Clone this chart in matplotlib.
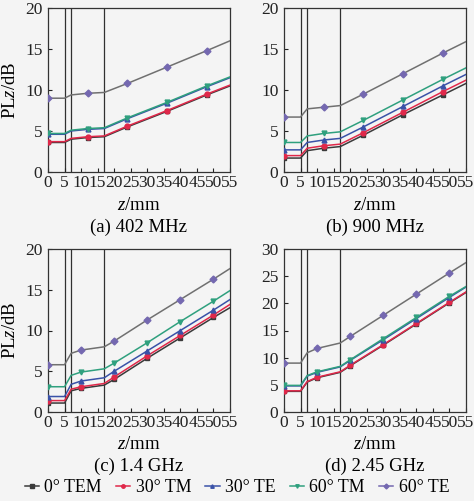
import matplotlib
matplotlib.use("Agg")
import matplotlib.pyplot as plt
from matplotlib.lines import Line2D

plt.rcParams['font.family'] = ['Liberation Serif', 'DejaVu Serif']
plt.rcParams['mathtext.fontset'] = 'custom'
plt.rcParams['mathtext.it'] = 'Liberation Serif:italic'
plt.rcParams['mathtext.rm'] = 'Liberation Serif'

series = ["0° TEM", "30° TM", "30° TE", "60° TM", "60° TE"]
colors = ["#3a3a3a", "#e0284a", "#3a52a8", "#2fa07e", "#7468b0"]
line_colors = ["#3a3a3a", "#e0284a", "#3a52a8", "#2fa07e", "#707070"]
markers = ["s", "o", "^", "v", "D"]

# panel (a) 402 MHz and (b) 900 MHz
z_ab = [0, 5, 7, 12, 17, 24, 36, 48, 55]
mark_ab = [0, 3, 5, 6, 7]
a_vals = [
    [3.6, 3.6, 4.0, 4.2, 4.3, 5.5, 7.4, 9.4, 10.5],
    [3.7, 3.7, 4.1, 4.3, 4.4, 5.6, 7.5, 9.5, 10.6],
    [4.6, 4.6, 5.0, 5.2, 5.3, 6.5, 8.4, 10.4, 11.5],
    [4.7, 4.7, 5.1, 5.3, 5.4, 6.6, 8.5, 10.5, 11.6],
    [9.0, 9.0, 9.4, 9.6, 9.7, 10.8, 12.8, 14.8, 16.0],
]
b_vals = [
    [1.7, 1.7, 2.6, 2.9, 3.1, 4.5, 7.0, 9.4, 10.8],
    [2.0, 2.0, 2.9, 3.2, 3.4, 4.8, 7.3, 9.8, 11.2],
    [2.7, 2.7, 3.6, 3.9, 4.1, 5.5, 8.0, 10.5, 11.9],
    [3.6, 3.6, 4.4, 4.7, 4.9, 6.3, 8.8, 11.3, 12.7],
    [6.7, 6.7, 7.7, 7.9, 8.1, 9.5, 12.0, 14.5, 15.9],
]
# panel (c) 1.4 GHz and (d) 2.45 GHz
z_cd = [0, 5, 7, 10, 17, 20, 30, 40, 50, 55]
mark_cd = [0, 3, 5, 6, 7, 8]
c_vals = [
    [1.1, 1.1, 2.6, 2.9, 3.3, 4.0, 6.6, 9.1, 11.6, 12.8],
    [1.4, 1.4, 2.8, 3.1, 3.5, 4.3, 6.9, 9.4, 11.9, 13.2],
    [1.9, 1.9, 3.4, 3.8, 4.2, 5.0, 7.5, 10.0, 12.5, 13.8],
    [3.1, 3.1, 4.5, 4.9, 5.3, 6.0, 8.5, 11.1, 13.6, 14.9],
    [5.8, 5.8, 7.2, 7.6, 8.0, 8.7, 11.3, 13.8, 16.3, 17.6],
]
d_vals = [
    [3.8, 3.8, 5.5, 6.3, 7.3, 8.5, 12.3, 16.2, 20.1, 22.0],
    [3.9, 3.9, 5.6, 6.4, 7.4, 8.6, 12.4, 16.3, 20.2, 22.1],
    [4.8, 4.8, 6.6, 7.3, 8.3, 9.5, 13.3, 17.2, 21.1, 23.0],
    [4.9, 4.9, 6.7, 7.4, 8.4, 9.6, 13.5, 17.4, 21.3, 23.1],
    [9.0, 9.0, 10.9, 11.7, 12.7, 13.9, 17.8, 21.7, 25.6, 27.5],
]
boundaries = [5, 7, 17]
captions = ["(a) 402 MHz", "(b) 900 MHz", "(c) 1.4 GHz", "(d) 2.45 GHz"]
xticks = list(range(0, 56, 5))

bg = "#f4f4f4"
fig = plt.figure(figsize=(4.74, 5.01), dpi=100, facecolor=bg)

W, H = 474, 501
def rect(l, r, t, b):
    return [l / W, 1 - b / H, (r - l) / W, (b - t) / H]

rects = [rect(48, 230, 8, 172), rect(284, 466, 8, 172),
         rect(48, 230, 249, 412), rect(284, 466, 249, 412)]
panels = [(z_ab, mark_ab, a_vals, 20), (z_ab, mark_ab, b_vals, 20),
          (z_cd, mark_cd, c_vals, 20), (z_cd, mark_cd, d_vals, 30)]

tfs = 12.5
lfs = 13.5
for i, (rc, (z, mk, vals, ymax)) in enumerate(zip(rects, panels)):
    ax = fig.add_axes(rc)
    ax.set_facecolor(bg)
    ax_h = 164.0
    ax_w = 182.0
    for b in boundaries:
        ax.axvline(b, color="#303030", lw=0.9, zorder=1)
    for k in range(len(series)):
        ax.plot(z, vals[k], color=line_colors[k], lw=1.1, marker=markers[k],
                markevery=mk, ms=3.5, mfc=colors[k], mec=colors[k], zorder=3)
    ax.set_xlim(0, 55)
    ax.set_ylim(0, ymax)
    ax.set_xticks(xticks)
    ax.set_yticks(list(range(0, ymax + 1, 5)))
    ax.tick_params(direction="in", length=3, width=0.8, labelsize=tfs,
                   colors="#222222")
    ax.tick_params(axis="x", pad=2)
    ax.tick_params(axis="y", pad=4)
    for s in ax.spines.values():
        s.set_color("#333333")
        s.set_linewidth(0.9)
    ax.set_xlabel(r"$z$/mm", fontsize=lfs, va="center")
    ax.xaxis.set_label_coords(0.5, -33 / ax_h)
    if i % 2 == 0:
        ax.set_ylabel(r"PL$z$/dB", fontsize=lfs, va="center")
        ax.yaxis.set_label_coords(-38 / ax_w, 0.5)
    ax.text(0.5, -55 / ax_h, captions[i], transform=ax.transAxes, ha="center",
            va="center", fontsize=lfs)

handles = [Line2D([0], [0], color=colors[k], lw=1.1, marker=markers[k], ms=2.5)
           for k in range(len(series))]
fig.legend(handles, series, loc="center", bbox_to_anchor=(0.5, 1 - 488 / H),
           ncol=5, frameon=False, fontsize=12.8, handlelength=0.8,
           handletextpad=0.3, columnspacing=0.8, borderpad=0, borderaxespad=0)

fig.savefig("out.png", dpi=100, facecolor=bg)
